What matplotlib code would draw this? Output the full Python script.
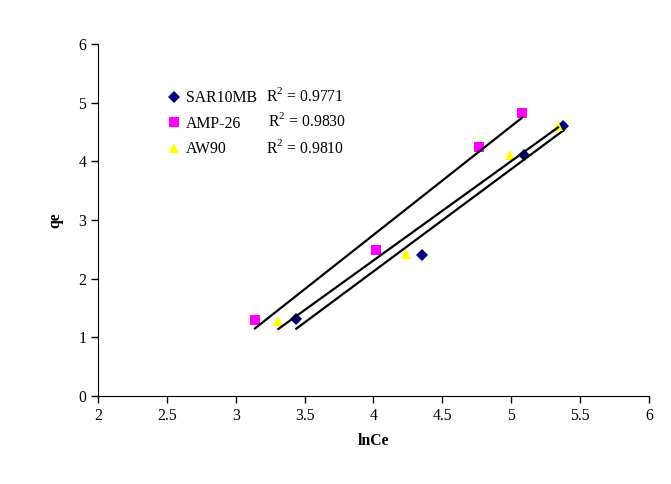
import numpy as np
import matplotlib
matplotlib.use("Agg")
import matplotlib.pyplot as plt

plt.rcParams['font.family'] = ['Liberation Serif', 'DejaVu Serif']
plt.rcParams['mathtext.fontset'] = 'custom'
plt.rcParams['mathtext.rm'] = 'Liberation Serif'

# data
sar_x = [3.44, 4.35, 5.09, 5.38]
sar_y = [1.31, 2.40, 4.11, 4.61]
amp_x = [3.14, 4.02, 4.77, 5.08]
amp_y = [1.30, 2.49, 4.24, 4.82]
aw_x = [3.31, 4.24, 4.99, 5.34]
aw_y = [1.28, 2.42, 4.11, 4.61]
names = ['SAR10MB', 'AMP-26', 'AW90']
r2 = ['0.9771', '0.9830', '0.9810']

fs = 11.3

fig = plt.figure(figsize=(6.71, 4.84), dpi=100)
ax = fig.add_axes([0.146, 0.182, 0.821, 0.727])

series = [(sar_x, sar_y, 'D', '#000080', 6),
          (amp_x, amp_y, 's', '#ff00ff', 7.5),
          (aw_x, aw_y, '^', '#ffff00', 7.5)]

handles = []
for (x, y, m, c, ms), nm in zip(series, names):
    h, = ax.plot(x, y, linestyle='none', marker=m, color=c, markersize=ms,
                 markeredgewidth=0, label=nm)
    handles.append(h)
    # linear trendline
    k, b = np.polyfit(x, y, 1)
    xx = np.array([min(x), max(x)])
    ax.plot(xx, k * xx + b, color='black', lw=1.6)

leg = ax.legend(handles=handles, loc='upper left', bbox_to_anchor=(0.112, 0.891),
                frameon=False, fontsize=fs, handlelength=0.8, handletextpad=0.35,
                labelspacing=0.6, borderpad=0)

ypos = [0.851, 0.780, 0.704]
xpos = [0.305, 0.309, 0.305]
for t, yy, xx in zip(r2, ypos, xpos):
    ax.text(xx, yy, 'R$^2$ = ' + t, transform=ax.transAxes, fontsize=fs,
            va='center')

ax.set_xlim(2, 6)
ax.set_ylim(0, 6)
ax.set_xticks(np.arange(2, 6.01, 0.5))
ax.set_xticklabels(['2', '2.5', '3', '3.5', '4', '4.5', '5', '5.5', '6'])
ax.set_yticks(range(0, 7))
ax.spines['top'].set_visible(False)
ax.spines['right'].set_visible(False)
ax.tick_params(direction='out', length=5, labelsize=fs, width=1)
ax.set_xlabel('lnCe', fontweight='bold', fontsize=fs, labelpad=7)
ax.set_ylabel('qe', fontweight='bold', fontsize=fs, labelpad=11)

fig.savefig('out.png', dpi=100)
